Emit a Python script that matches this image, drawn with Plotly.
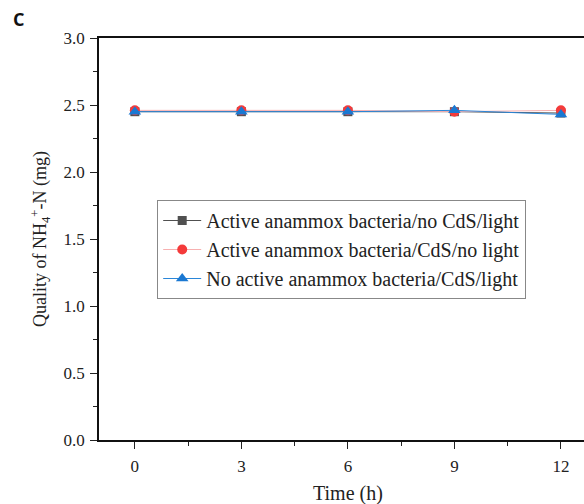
import plotly.graph_objects as go

time_h = [0, 3, 6, 9, 12]
gray_series = [2.45, 2.45, 2.45, 2.45, 2.44]
red_series = [2.46, 2.46, 2.46, 2.45, 2.46]
blue_series = [2.45, 2.45, 2.45, 2.46, 2.43]
names = ["Active anammox bacteria/no CdS/light",
         "Active anammox bacteria/CdS/no light",
         "No active anammox bacteria/CdS/light"]
y_ticks = [0, 0.5, 1.0, 1.5, 2.0, 2.5, 3.0]
y_ticktext = ["0.0", "0.5", "1.0", "1.5", "2.0", "2.5", "3.0"]

serif = "Liberation Serif, Times New Roman, serif"
fig = go.Figure()
fig.add_trace(go.Scatter(x=time_h, y=gray_series, name=names[0], mode="lines+markers",
                         line=dict(color="#505050", width=1),
                         marker=dict(symbol="square", size=9, color="#505050")))
fig.add_trace(go.Scatter(x=time_h, y=red_series, name=names[1], mode="lines+markers",
                         line=dict(color="#f7b0b0", width=1),
                         marker=dict(symbol="circle", size=10, color="#f43a3a")))
fig.add_trace(go.Scatter(x=time_h, y=blue_series, name=names[2], mode="lines+markers",
                         line=dict(color="#2a86d8", width=1),
                         marker=dict(symbol="triangle-up", size=11, color="#1a78d2")))

fig.update_layout(
    width=584, height=504,
    margin=dict(l=99, r=0, t=38, b=64),
    paper_bgcolor="white", plot_bgcolor="white",
    showlegend=True,
    font=dict(family=serif, size=17, color="#222"),
    legend=dict(x=0.12, y=0.597, xanchor="left", yanchor="top",
                bgcolor="white", bordercolor="#888", borderwidth=1,
                font=dict(family=serif, size=20, color="#222"),
                tracegroupgap=0, itemwidth=38),
    xaxis=dict(range=[-1.01, 12.65], tickvals=time_h, ticks="outside", ticklen=7,
               tickwidth=1.2, tickcolor="#222", ticklabelstandoff=3,
               minor=dict(tickvals=[1.5, 4.5, 7.5, 10.5], ticks="outside", ticklen=4, tickcolor="#222"),
               showline=True, linecolor="#111", linewidth=1.5, mirror=True,
               showgrid=False, zeroline=False,
               tickfont=dict(family=serif, size=17, color="#222")),
    yaxis=dict(range=[0, 3.0], tickvals=y_ticks, ticktext=y_ticktext,
               ticks="outside", ticklen=7, tickwidth=1.2, tickcolor="#222", ticklabelstandoff=2,
               minor=dict(tickvals=[0.25, 0.75, 1.25, 1.75, 2.25, 2.75], ticks="outside", ticklen=4, tickcolor="#222"),
               showline=True, linecolor="#111", linewidth=1.5,
               showgrid=False, zeroline=False,
               title=dict(text="Quality of NH<sub>4</sub><sup>+</sup>-N (mg)", font=dict(family=serif, size=18), standoff=12),
               tickfont=dict(family=serif, size=17, color="#222")),
)
fig.add_annotation(text="Time (h)", xref="x", yref="paper", x=6, y=-0.132,
                   xanchor="center", yanchor="middle", showarrow=False,
                   font=dict(family=serif, size=20, color="#222"))
fig.add_annotation(text="<b>C</b>", xref="paper", yref="paper", x=-0.182, y=1.047,
                   xanchor="left", yanchor="middle", showarrow=False,
                   font=dict(family="Open Sans, Arial, sans-serif", size=18, color="#111"))
fig.write_html("out.html")
